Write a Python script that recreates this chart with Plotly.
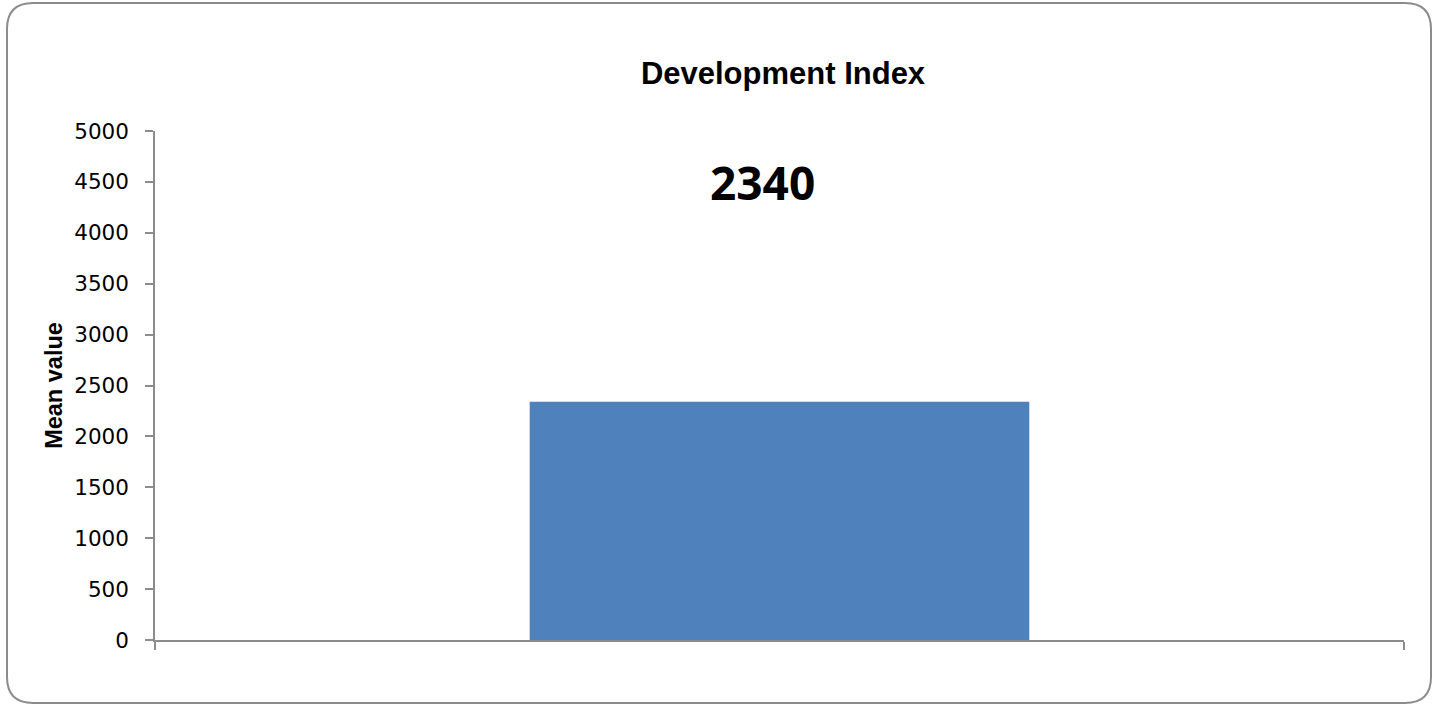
import plotly.graph_objects as go

categories = ["Development Index"]
values = [2340]
y_ticks = [0, 500, 1000, 1500, 2000, 2500, 3000, 3500, 4000, 4500, 5000]

W, H = 1439, 707
L, R, T, B = 155, 1404, 131, 640  # plot area in pixels

def px(x):
    return (x - L) / (R - L)

def py(y):
    return (B - y) / (B - T)

fig = go.Figure()
fig.add_trace(go.Bar(x=[0], y=values, width=0.4, marker=dict(color="#4F81BD", line=dict(width=0)),
                     hoverinfo="y"))

# rounded border
x0, x1, y0, y1, r = 7, 1431, 3, 703, 26
path = (f"M {px(x0+r)},{py(y0)} L {px(x1-r)},{py(y0)} Q {px(x1)},{py(y0)} {px(x1)},{py(y0+r)} "
        f"L {px(x1)},{py(y1-r)} Q {px(x1)},{py(y1)} {px(x1-r)},{py(y1)} "
        f"L {px(x0+r)},{py(y1)} Q {px(x0)},{py(y1)} {px(x0)},{py(y1-r)} "
        f"L {px(x0)},{py(y0+r)} Q {px(x0)},{py(y0)} {px(x0+r)},{py(y0)} Z")
fig.add_shape(type="path", path=path, xref="paper", yref="paper",
              line=dict(color="#8C8C8C", width=2), layer="below")

fig.add_annotation(text=f"<b>{values[0]}</b>", xref="paper", yref="paper",
                   x=px(762), y=py(182), showarrow=False,
                   font=dict(family="Open Sans", size=46, color="black"),
                   xanchor="center", yanchor="middle")

fig.update_layout(
    width=W, height=H,
    margin=dict(l=L, r=W - R, t=T, b=H - B),
    paper_bgcolor="white", plot_bgcolor="white",
    showlegend=False,
    title=dict(text="<b>Development Index</b>", x=px(783), xref="paper", xanchor="center",
               y=1 - 73 / H, yref="container", yanchor="middle",
               font=dict(family="Liberation Sans, Arial", size=31, color="black")),
    xaxis=dict(range=[-0.5, 0.5], tickmode="array", tickvals=[-0.5, 0.5], ticktext=["", ""],
               ticks="outside", ticklen=8, tickcolor="#8C8C8C", tickwidth=1.5,
               showline=True, linecolor="#8C8C8C", linewidth=1.5, showgrid=False,
               zeroline=False, fixedrange=True),
    yaxis=dict(range=[0, 5000], tickmode="array", tickvals=y_ticks,
               ticktext=[str(v) for v in y_ticks],
               ticks="outside", ticklen=8, tickcolor="#8C8C8C", tickwidth=1.5,
               showline=True, linecolor="#8C8C8C", linewidth=1.5, showgrid=False,
               zeroline=False, ticklabelstandoff=12,
               tickfont=dict(family="DejaVu Sans", size=21.5, color="black"),
               title=dict(text="<b>Mean value</b>", standoff=5,
                          font=dict(family="Liberation Sans, Arial", size=23.5, color="black"))),
)

fig.write_html("out.html")
